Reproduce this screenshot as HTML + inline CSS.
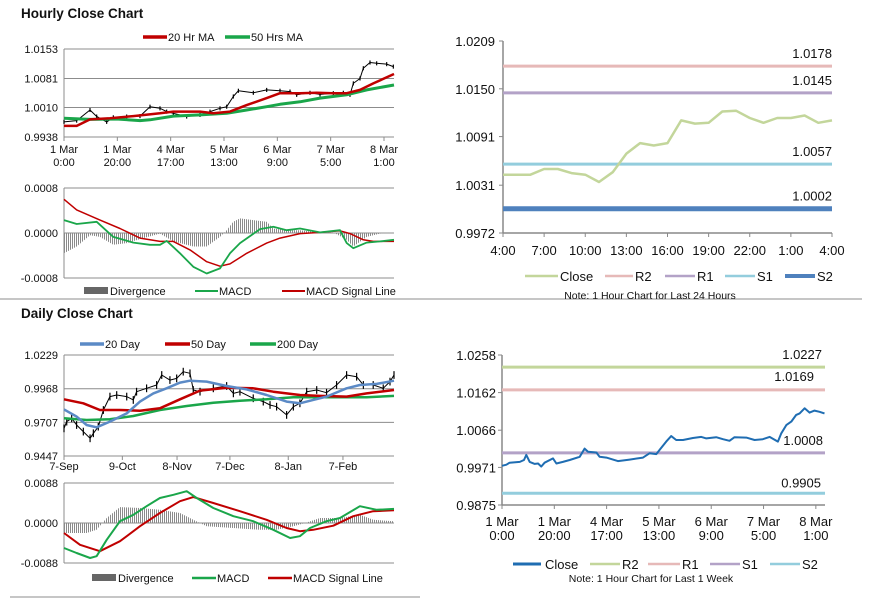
<!DOCTYPE html>
<html><head><meta charset="utf-8">
<style>
html,body{margin:0;padding:0;background:#fff;width:873px;height:601px;overflow:hidden;font-family:"Liberation Sans",Arial,sans-serif}
svg{position:absolute;left:0;top:0}
text{font-family:"Liberation Sans",Arial,sans-serif}
</style></head>
<body>
<svg id="s" width="873" height="601" viewBox="0 0 873 601">
<defs>
<pattern id="hatch" width="2" height="4" patternUnits="userSpaceOnUse"><rect x="0" y="0" width="1" height="4" fill="#8a8a8a"/></pattern>
</defs>
<text x="21" y="18" font-size="13.5" font-weight="bold" fill="#111">Hourly Close Chart</text>
<text x="21" y="318" font-size="13.5" font-weight="bold" fill="#111">Daily Close Chart</text>
<line x1="0" y1="299" x2="862" y2="299" stroke="#8c8c8c" stroke-width="1"/>
<line x1="10" y1="597" x2="420" y2="597" stroke="#8c8c8c" stroke-width="1"/>
</svg>
<script>
// ===== Hourly price chart data (x = trading hour index) =====
const hourlyXTicks = ["1 Mar|0:00","1 Mar|20:00","4 Mar|17:00","5 Mar|13:00","6 Mar|9:00","7 Mar|5:00","8 Mar|1:00"];
const hourlyYTicks = [0.9938,1.0010,1.0081,1.0153];
const hourlyCloseX = [0,4.75,9.75,12.25,16,18.5,23.5,28.5,32.25,36,38.5,41,46,51,54.75,58.5,61,63.5,65.4,71,76,81,84.75,87.25,92.25,96,101,104.75,107.25,108.5,111,112.25,114.75,117.25,121,123.5];
const hourlyClose = [0.9975,0.9978,1.0004,0.9988,0.9975,0.9986,0.9988,0.9989,1.0012,1.0008,1.0000,0.9996,0.9988,0.9992,1.0000,1.0008,1.0012,1.0037,1.0051,1.0046,1.0053,1.0051,1.0049,1.0041,1.0046,1.0042,1.0045,1.0046,1.0041,1.0069,1.0081,1.0106,1.0120,1.0118,1.0116,1.0110];
const ma20X = [0,4.75,9.75,17.25,26,36,41,51,56,62.25,68.5,76,81,88.5,94.75,101,106,111,116,123.75];
const ma20 = [0.9965,0.9965,0.9981,0.9984,0.9989,0.9996,1.0000,1.0000,0.9996,1.0000,1.0016,1.0033,1.0045,1.0045,1.0046,1.0045,1.0045,1.0053,1.0069,1.0092];
const ma50X = [0,9.75,19.75,28.5,32.25,41,51,61,68.5,76,81,88.5,96,106,113.5,123.75];
const ma50 = [0.9984,0.9981,0.9982,0.9978,0.9980,0.9989,0.9992,0.9996,1.0004,1.0012,1.0018,1.0024,1.0033,1.0041,1.0053,1.0065];
// ===== Hourly MACD =====
const hMacdX = [0,4.75,12.25,18.5,26,32.25,36,38.5,43.5,48.5,53.5,58.5,62.25,66,73.5,78.5,83.5,88.5,96,103.5,106,108.5,113.5,118.5,123.75];
const hMacd = [0.00023,0.00016,0.00020,-0.00007,-0.00017,-0.00021,-0.00021,-0.00014,-0.00036,-0.00060,-0.00072,-0.00063,-0.00036,-0.00018,0.00007,0.00011,0.00005,0.00008,0.00001,0.00005,-0.00018,-0.00027,-0.00017,-0.00015,-0.00012];
const hSigX = [0,4.75,13.5,21,28.5,36,41,47.25,53.5,58.5,62.25,68.5,76,81,88.5,96,103.5,107.25,112.25,116,123.75];
const hSig = [0.00060,0.00041,0.00023,0.00008,-0.00009,-0.00015,-0.00015,-0.00030,-0.00051,-0.00059,-0.00055,-0.00036,-0.00018,-0.00009,-0.00001,0.00001,0.00004,-0.00001,-0.00012,-0.00015,-0.00015];
const hDivX = [0,4.75,9.75,13.5,18.5,23.5,29.75,36,41,48.5,53.5,58.5,61,63.5,66,71,76,78.5,83.5,88.5,96,101,106,108.5,113.5,118.5,123.75];
const hDiv = [-0.00036,-0.00024,-0.00004,-0.00007,-0.00021,-0.00018,-0.00009,-0.00001,-0.00015,-0.00024,-0.00024,-0.00007,0.00005,0.00020,0.00026,0.00023,0.00020,0.00008,0.00005,0.00005,0.00001,0.00001,-0.00012,-0.00024,-0.00007,-0.00001,0.00001];
// ===== Daily price chart (x = calendar day from 7-Sep) =====
const dailyXTicks = ["7-Sep","9-Oct","8-Nov","7-Dec","8-Jan","7-Feb"];
const dailyXTickDays = [0,32,62,91,123,153];
const dailyYTicks = [0.9447,0.9707,0.9968,1.0229];
const dCloseX = [0,1.5,4.2,6.9,10.6,14.3,16.1,18.8,21.6,25.2,28.9,34.4,38,39.8,45.3,50.8,53.6,58.1,61.8,65.4,69.1,70.9,74.6,81.9,89.2,92.9,96.5,103.8,109.3,113,116.6,122.1,125.8,129.4,133.1,138.6,144,149.5,155,160.5,164.2,169.6,175.1,178.8,181];
const dClose = [0.9661,0.9713,0.9739,0.9687,0.9636,0.9584,0.9623,0.9674,0.9803,0.9907,0.9919,0.9907,0.9881,0.9945,0.9971,0.9997,1.0074,1.0035,1.0048,1.0100,1.0087,0.9958,0.9945,0.9971,0.9989,0.9932,0.9945,0.9894,0.9868,0.9842,0.9829,0.9765,0.9829,0.9855,0.9945,0.9958,0.9937,0.9997,1.0074,1.0061,0.9997,0.9997,0.9971,1.0023,1.0074];
const d20X = [0,6.9,12.4,17.9,25.2,34.4,41.7,49,56.3,63.6,69.1,78.2,89.2,100.2,111.1,122.1,129.4,136.7,144,155,162.3,171.5,181];
const d20 = [0.9808,0.9752,0.9687,0.9669,0.9713,0.9777,0.9868,0.9932,0.9971,1.0015,1.0030,1.0023,0.9989,0.9963,0.9919,0.9868,0.9855,0.9881,0.9907,0.9971,0.9997,1.0005,1.0030];
const d50X = [0,10.6,19.7,30.7,41.7,52.6,63.6,74.6,89.2,103.8,114.8,129.4,140.4,155,166,181];
const d50 = [0.9886,0.9855,0.9803,0.9803,0.9798,0.9816,0.9886,0.9953,0.9976,0.9971,0.9945,0.9919,0.9912,0.9907,0.9932,0.9958];
const d200X = [0,12.4,25.2,38,52.6,67.3,81.9,96.5,111.1,125.8,140.4,155,166,181];
const d200 = [0.9739,0.9726,0.9731,0.9757,0.9803,0.9834,0.9860,0.9875,0.9886,0.9902,0.9902,0.9902,0.9902,0.9912];
// ===== Daily MACD =====
const dMacdX = [0,6.9,14.3,17.9,23.4,30.7,38,45.3,52.6,60,67.3,72.8,81.9,92.9,103.8,114.8,124,129.4,134.9,144,151.4,162.3,171.5,181];
const dMacd = [-0.0055,-0.0066,-0.0077,-0.0073,-0.0037,0.0004,0.0018,0.0037,0.0055,0.0062,0.0070,0.0055,0.0033,0.0015,0.0004,-0.0015,-0.0033,-0.0029,-0.0011,0.0004,0.0011,0.0037,0.0029,0.0031];
const dSigX = [0,8.8,19.7,30.7,41.7,52.6,63.6,70.9,81.9,96.5,111.1,122.1,129.4,136.7,147.7,158.7,169.6,181];
const dSig = [-0.0022,-0.0048,-0.0062,-0.0040,-0.0007,0.0022,0.0048,0.0057,0.0044,0.0026,0.0007,-0.0011,-0.0018,-0.0015,-0.0006,0.0015,0.0026,0.0028];
const dDivX = [0,12.4,17.9,23.4,30.7,41.7,52.6,63.6,70.9,78.2,92.9,107.5,116.6,125.8,133.1,140.4,151.4,162.3,169.6,181];
const dDiv = [-0.0022,-0.0022,-0.0015,0.0011,0.0035,0.0033,0.0029,0.0022,0.0007,-0.0007,-0.0011,-0.0015,-0.0015,-0.0007,0.0001,0.0011,0.0011,0.0018,0.0007,0.0004];
// ===== Right top: last 24 hours =====
const r24Ticks = ["4:00","7:00","10:00","13:00","16:00","19:00","22:00","1:00","4:00"];
const r24YTicks = [0.9972,1.0031,1.0091,1.0150,1.0209];
const r24Close = [1.0044,1.0044,1.0044,1.0051,1.0051,1.0046,1.0044,1.0035,1.0047,1.0070,1.0083,1.0080,1.0083,1.0111,1.0107,1.0108,1.0122,1.0123,1.0114,1.0108,1.0114,1.0114,1.0117,1.0108,1.0111];
const r24LevelNames = ["R2","R1","S1","S2"];
const r24Levels = [1.0178,1.0145,1.0057,1.0002];
// ===== Right bottom: last week =====
const rwXTicks = ["1 Mar|0:00","1 Mar|20:00","4 Mar|17:00","5 Mar|13:00","6 Mar|9:00","7 Mar|5:00","8 Mar|1:00"];
const rwYTicks = [0.9875,0.9971,1.0066,1.0162,1.0258];
const rwCloseX = [0,1.7,2.9,6.8,8.4,9.3,10.6,12.5,13.8,15,16.3,19.5,20.8,23.3,25.9,29.7,31.6,32.9,36.1,37.3,39.9,44.3,48.8,53.9,56.4,59,60.3,62.8,64.7,66.6,69.2,73,76.2,78.1,81.9,84.5,87,88.9,93.4,96.6,99.7,102.3,105.5,106.8,108.7,110.6,112.5,113.8,115.7,117.6,119.5,121.4,123.3];
const rwClose = [0.9975,0.9978,0.9983,0.9985,0.9990,1.0003,0.9985,0.9980,0.9981,0.9973,0.9983,0.9994,0.9981,0.9985,0.9990,0.9998,1.0019,1.0011,1.0009,0.9998,0.9996,0.9987,0.9991,0.9996,1.0007,1.0005,1.0016,1.0037,1.0051,1.0041,1.0041,1.0046,1.0049,1.0045,1.0048,1.0043,1.0039,1.0048,1.0047,1.0041,1.0043,1.0049,1.0037,1.0058,1.0079,1.0088,1.0105,1.0109,1.0122,1.0111,1.0116,1.0113,1.0109];
const rwLevelNames = ["R2","R1","S1","S2"];
const rwLevels = [1.0227,1.0169,1.0008,0.9905];

const S = document.getElementById('s');
const NS = 'http://www.w3.org/2000/svg';
function el(tag, attrs, parent){const e=document.createElementNS(NS,tag);for(const k in attrs)e.setAttribute(k,attrs[k]);(parent||S).appendChild(e);return e;}
function lin(d0,d1,r0,r1){return v=>r0+(v-d0)/(d1-d0)*(r1-r0);}
function txt(x,y,s,size,anchor,fill,name){const t=el('text',{x:x,y:y,'font-size':size,'text-anchor':anchor||'start',fill:fill||'#111'});t.textContent=s;


return t;}
function polyline(xs,ys,fx,fy,color,w,name){const pts=xs.map((x,i)=>fx(x).toFixed(1)+','+fy(ys[i]).toFixed(1)).join(' ');const p=el('polyline',{points:pts,fill:'none',stroke:color,'stroke-width':w,'stroke-linejoin':'round'});


return p;}
function hline(x1,x2,y,color,w,name){const l=el('line',{x1:x1,x2:x2,y1:y,y2:y,stroke:color,'stroke-width':w});


return l;}
function vline(x,y1,y2,color,w,name){const l=el('line',{x1:x,x2:x,y1:y1,y2:y2,stroke:color,'stroke-width':w});


return l;}
function legendLine(x1,x2,y,color,w,label,name){hline(x1,x2,y,color,w,name+'-swatch');txt(x2+1,y+4,label,11,'start','#111',name+'-label');}

// ---------- Hourly price ----------
(function(){
const L=64,R=394,T=49,B=137;
const fx=lin(0,123.75,L,R), fy=lin(0.9938,1.0153,B,T);
hourlyYTicks.forEach((v,i)=>{if(i>0)hline(L,R,fy(v),'#8c8c8c',1,'hourly-gridline');txt(L-6,fy(v)+4,v.toFixed(4),11,'end','#111','hourly-y-tick');});
hline(L,R,B,'#8c8c8c',1,'hourly-x-axis');vline(L,T,B,'#8c8c8c',1,'hourly-y-axis');
hourlyXTicks.forEach((s,i)=>{const x=fx(i*20);vline(x,B,B+4,'#8c8c8c',1,'hourly-x-tick-mark');const p=s.split('|');txt(x,B+16,p[0],11,'middle','#111','hourly-x-tick');txt(x,B+29,p[1],11,'middle','#111','hourly-x-tick');});
hourlyClose.forEach((v,i)=>{const x=fx(hourlyCloseX[i]);vline(x,fy(v+0.0005),fy(v-0.0005),'#000',1.2,'hourly-price-bar');});
polyline(hourlyCloseX,hourlyClose,fx,fy,'#000',1,'hourly-close-line');
polyline(ma50X,ma50,fx,fy,'#1aa64a',3,'hourly-50hr-ma');
polyline(ma20X,ma20,fx,fy,'#c00000',2.5,'hourly-20hr-ma');
legendLine(143,167,37,'#c00000',3.5,'20 Hr MA','legend-20hr-ma');
legendLine(225,250,37,'#1aa64a',3.5,'50 Hrs MA','legend-50hr-ma');
})();
// ---------- Hourly MACD ----------
(function(){
const L=64,R=394,T=188,B=278;
const fx=lin(0,123.75,L,R), fy=lin(-0.0008,0.0008,B,T);
[-0.0008,0,0.0008].forEach(v=>{hline(L,R,fy(v),'#8c8c8c',1,'hourly-macd-gridline');txt(L-6,fy(v)+4,v.toFixed(4),11,'end','#111','hourly-macd-y-tick');});
vline(L,T,B,'#8c8c8c',1,'hourly-macd-y-axis');
const pts=[fx(hDivX[0])+','+fy(0)].concat(hDivX.map((x,i)=>fx(x).toFixed(1)+','+fy(hDiv[i]).toFixed(1))).concat([fx(hDivX[hDivX.length-1])+','+fy(0)]).join(' ');
const d=el('polygon',{points:pts,fill:'url(#hatch)'});


polyline(hSigX,hSig,fx,fy,'#c00000',1.5,'hourly-macd-signal');
polyline(hMacdX,hMacd,fx,fy,'#1aa64a',1.8,'hourly-macd');
const b=el('rect',{x:84,y:287,width:24,height:7,fill:'#666'});


txt(110,295,'Divergence',11,'start','#111','legend-divergence-label');
legendLine(195,218,291,'#1aa64a',2,'MACD','legend-macd');
legendLine(282,305,291,'#c00000',2,'MACD Signal Line','legend-macd-signal');
})();
// ---------- Daily price ----------
(function(){
const L=64,R=394,T=355,B=456;
const fx=lin(0,181,L,R), fy=lin(0.9447,1.0229,B,T);
dailyYTicks.forEach((v,i)=>{if(i>0)hline(L,R,fy(v),'#8c8c8c',1,'daily-gridline');txt(L-6,fy(v)+4,v.toFixed(4),11,'end','#111','daily-y-tick');});
hline(L,R,B,'#8c8c8c',1,'daily-x-axis');vline(L,T,B,'#8c8c8c',1,'daily-y-axis');
dailyXTicks.forEach((s,i)=>{const x=fx(dailyXTickDays[i]);vline(x,B,B+4,'#8c8c8c',1,'daily-x-tick-mark');txt(x,B+14,s,11,'middle','#111','daily-x-tick');});
dClose.forEach((v,i)=>{const x=fx(dCloseX[i]);vline(x,fy(v+0.003),fy(v-0.003),'#000',1.2,'daily-price-bar');});
polyline(dCloseX,dClose,fx,fy,'#000',1,'daily-close-line');
polyline(d200X,d200,fx,fy,'#1aa64a',2.5,'daily-200-day-ma');
polyline(d50X,d50,fx,fy,'#c00000',2.5,'daily-50-day-ma');
polyline(d20X,d20,fx,fy,'#5b8ac6',2.5,'daily-20-day-ma');
legendLine(80,104,344,'#5b8ac6',3.5,'20 Day','legend-20-day');
legendLine(165,190,344,'#c00000',3.5,'50 Day','legend-50-day');
legendLine(250,276,344,'#1aa64a',3.5,'200 Day','legend-200-day');
})();
// ---------- Daily MACD ----------
(function(){
const L=64,R=394,T=483,B=563;
const fx=lin(0,181,L,R), fy=lin(-0.0088,0.0088,B,T);
[-0.0088,0,0.0088].forEach(v=>{hline(L,R,fy(v),'#8c8c8c',1,'daily-macd-gridline');txt(L-6,fy(v)+4,v.toFixed(4),11,'end','#111','daily-macd-y-tick');});
vline(L,T,B,'#8c8c8c',1,'daily-macd-y-axis');
const pts=[fx(dDivX[0])+','+fy(0)].concat(dDivX.map((x,i)=>fx(x).toFixed(1)+','+fy(dDiv[i]).toFixed(1))).concat([fx(dDivX[dDivX.length-1])+','+fy(0)]).join(' ');
const d=el('polygon',{points:pts,fill:'url(#hatch)'});


polyline(dSigX,dSig,fx,fy,'#c00000',2,'daily-macd-signal');
polyline(dMacdX,dMacd,fx,fy,'#1aa64a',2,'daily-macd');
const b=el('rect',{x:92,y:574,width:24,height:7,fill:'#666'});


txt(118,582,'Divergence',11,'start','#111','legend-daily-divergence-label');
legendLine(192,216,578,'#1aa64a',2.5,'MACD','legend-daily-macd');
legendLine(268,292,578,'#c00000',2.5,'MACD Signal Line','legend-daily-macd-signal');
})();
// ---------- Right top (24h) ----------
(function(){
const L=503,R=832,T=41,B=233;
const fx=lin(0,24,L,R), fy=lin(0.9972,1.0209,B,T);
hline(L,R,B,'#888',1.5,'r24-x-axis');vline(L,T,B,'#888',1.5,'r24-y-axis');
r24YTicks.forEach(v=>{vline(L-4,fy(v),fy(v),'#888',1,'r24-y-tick-mark');hline(L-4,L,fy(v),'#888',1,'r24-y-tick-mark');txt(L-8,fy(v)+5,v.toFixed(4),13,'end','#111','r24-y-tick');});
r24Ticks.forEach((s,i)=>{const x=fx(i*3);vline(x,B,B+4,'#888',1,'r24-x-tick-mark');txt(x,B+22,s,13,'middle','#111','r24-x-tick');});
const cols=['#e6b9b8','#b3a2c7','#93cddd','#4f81bd'], ws=[3,3,3,5];
r24Levels.forEach((v,i)=>{hline(L,R,fy(v),cols[i],ws[i],'r24-level-'+r24LevelNames[i].toLowerCase());txt(832,fy(v)-8,v.toFixed(4),13,'end','#111','r24-level-label');});
polyline(r24Close.map((v,i)=>i),r24Close,fx,fy,'#c3d69b',2.5,'r24-close-line');
legendLine(525,558,276,'#c3d69b',2.5,'','legend-close');txt(560,281,'Close',13,'start','#111','legend-close-text');
legendLine(605,633,276,cols[0],2.5,'','legend-r2');txt(635,281,'R2',13,'start','#111','legend-r2-text');
legendLine(665,695,276,cols[1],2.5,'','legend-r1');txt(697,281,'R1',13,'start','#111','legend-r1-text');
legendLine(725,755,276,cols[2],2.5,'','legend-s1');txt(757,281,'S1',13,'start','#111','legend-s1-text');
legendLine(785,815,276,cols[3],4,'','legend-s2');txt(817,281,'S2',13,'start','#111','legend-s2-text');
txt(650,299,'Note: 1 Hour Chart for Last 24 Hours',10.5,'middle','#111','r24-note');
})();
// ---------- Right bottom (week) ----------
(function(){
const L=502,R=825,T=355,B=505;
const fx=lin(0,123.5,L,R), fy=lin(0.9875,1.0258,B,T);
hline(L,R,B,'#888',1.5,'rw-x-axis');vline(L,T,B,'#888',1.5,'rw-y-axis');
rwYTicks.forEach(v=>{hline(L-4,L,fy(v),'#888',1,'rw-y-tick-mark');txt(L-6,fy(v)+5,v.toFixed(4),13,'end','#111','rw-y-tick');});
rwXTicks.forEach((s,i)=>{const x=fx(i*20);vline(x,B,B+4,'#888',1,'rw-x-tick-mark');const p=s.split('|');txt(x,B+21,p[0],13,'middle','#111','rw-x-tick');txt(x,B+35,p[1],13,'middle','#111','rw-x-tick');});
const cols=['#c3d69b','#e6b9b8','#b3a2c7','#93cddd'];
rwLevels.forEach((v,i)=>{hline(L,R,fy(v),cols[i],3,'rw-level-'+rwLevelNames[i].toLowerCase());});
txt(822,fy(rwLevels[0])-8,'1.0227',13,'end','#111','rw-level-label');
txt(814,fy(rwLevels[1])-9,'1.0169',13,'end','#111','rw-level-label');
txt(823,fy(rwLevels[2])-8,'1.0008',13,'end','#111','rw-level-label');
txt(821,fy(rwLevels[3])-6,'0.9905',13,'end','#111','rw-level-label');
polyline(rwCloseX,rwClose,fx,fy,'#1f6db2',2,'rw-close-line');
legendLine(513,541,564,'#1f6db2',3,'','legend-week-close');txt(545,569,'Close',13,'start','#111','legend-week-close-text');
legendLine(590,620,564,cols[0],2.5,'','legend-week-r2');txt(622,569,'R2',13,'start','#111','legend-week-r2-text');
legendLine(648,680,564,cols[1],2.5,'','legend-week-r1');txt(682,569,'R1',13,'start','#111','legend-week-r1-text');
legendLine(710,740,564,cols[2],2.5,'','legend-week-s1');txt(742,569,'S1',13,'start','#111','legend-week-s1-text');
legendLine(770,800,564,cols[3],2.5,'','legend-week-s2');txt(802,569,'S2',13,'start','#111','legend-week-s2-text');
txt(651,582,'Note: 1 Hour Chart for Last 1 Week',10.5,'middle','#111','rw-note');
})();
</script>
</body></html>
